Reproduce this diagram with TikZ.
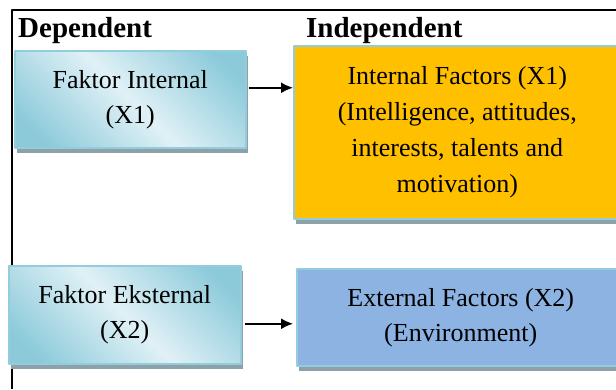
\documentclass[tikz,border=0pt]{standalone}
\usepackage{fontspec}
\setmainfont{Liberation Serif}
\usetikzlibrary{shadows,arrows.meta}
\definecolor{tuerkis}{RGB}{147,205,221}
\definecolor{kastdunkel}{RGB}{140,202,218}
\definecolor{kasthell}{RGB}{224,241,246}
\definecolor{schatten}{RGB}{140,162,168}
\definecolor{gelb}{RGB}{255,192,0}
\definecolor{blau}{RGB}{141,179,226}
\pgfdeclarehorizontalshading{streifen}{100bp}{color(0bp)=(kastdunkel); color(22bp)=(kastdunkel); color(50bp)=(kasthell); color(78bp)=(kastdunkel); color(100bp)=(kastdunkel)}
\begin{document}
\begin{tikzpicture}[x=1pt,y=-1pt,line join=round,
  kasten/.style={draw=tuerkis,line width=1.5pt,align=center,inner sep=0pt,anchor=north west,
    font=\fontsize{26}{35}\selectfont,
    drop shadow={shadow xshift=2pt,shadow yshift=-5pt,fill=schatten,opacity=1}},
  titel/.style={font=\fontsize{29}{29}\selectfont\bfseries,anchor=base west,inner sep=0pt},
  pfeil/.style={->,>={Latex[length=12pt,width=11pt]},line width=1.6pt}]
\useasboundingbox (0,0) rectangle (616,389);

%Rahmen
\draw[line width=1.5pt] (12,389) -- (12,10) -- (616,10);
\node[titel] (dep) at (18,37.5) {Dependent};
\node[titel] (indep) at (306,37.5) {Independent};

%Kaesten links
\node[kasten,shade,shading=streifen,shading angle=45,minimum width=231pt,minimum height=97pt] (fi) at (14,50) {Faktor Internal\\(X1)};
\node[kasten,shade,shading=streifen,shading angle=45,minimum width=232pt,minimum height=98pt] (fe) at (8,265) {Faktor Eksternal\\(X2)};

%Kaesten rechts
\node[kasten,fill=gelb,minimum width=327pt,minimum height=173pt,font=\fontsize{26}{36}\selectfont] (ii) at (293,45) {Internal Factors (X1)\\(Intelligence, attitudes,\\interests, talents and\\motivation)};
\node[kasten,fill=blau,minimum width=328pt,minimum height=97pt] (ef) at (296,268) {External Factors (X2)\\(Environment)};

%Pfeile
\draw[pfeil] ([xshift=2pt,yshift=11.5pt]fi.east) -- ([yshift=11.5pt]fi.east -| ii.west);
\draw[pfeil] ([xshift=3pt,yshift=-9pt]fe.east) -- ([xshift=-3pt,yshift=-9pt]fe.east -| ef.west);

\end{tikzpicture}
\end{document}
